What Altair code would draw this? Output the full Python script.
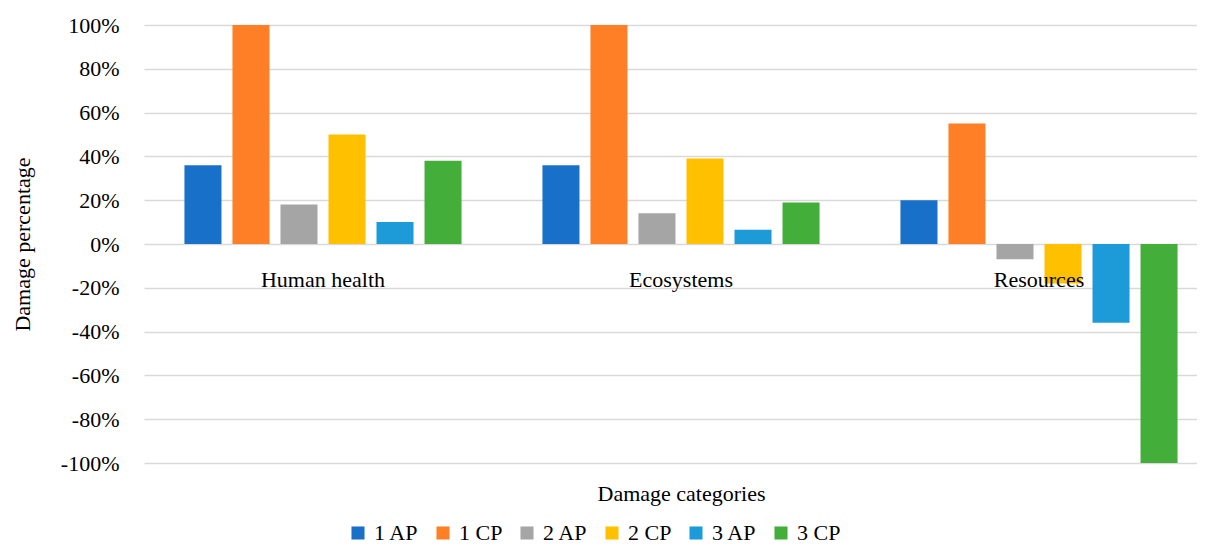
import altair as alt
import pandas as pd

categories = ["Human health", "Ecosystems", "Resources"]
series = ["1 AP", "1 CP", "2 AP", "2 CP", "3 AP", "3 CP"]
ap1 = [0.36, 0.36, 0.20]
cp1 = [1.00, 1.00, 0.55]
ap2 = [0.18, 0.14, -0.07]
cp2 = [0.50, 0.39, -0.18]
ap3 = [0.10, 0.065, -0.36]
cp3 = [0.38, 0.19, -1.00]
colors = ["#1870C8", "#FF7F27", "#A5A5A5", "#FFC000", "#1C9BD8", "#43AE3A"]
y_ticks = [-1.0, -0.8, -0.6, -0.4, -0.2, 0.0, 0.2, 0.4, 0.6, 0.8, 1.0]

all_vals = [ap1, cp1, ap2, cp2, ap3, cp3]
rows = []
for s, vals in zip(series, all_vals):
    for c, v in zip(categories, vals):
        rows.append({"category": c, "series": s, "value": v})
df = pd.DataFrame(rows)
cat_df = pd.DataFrame({"category": categories, "zero": [0.0] * len(categories)})

FONT = "Liberation Serif"

x_scale = alt.Scale(domain=categories, range=[0, 1074], paddingInner=0.226, paddingOuter=0.113)
y_scale = alt.Scale(domain=[-1, 1], nice=False)

bars = alt.Chart(df).mark_bar().encode(
    x=alt.X("category:N", scale=x_scale, sort=categories,
            axis=alt.Axis(labels=False, ticks=False, domain=False, grid=False,
                          title="Damage categories", titlePadding=20,
                          titleFont=FONT, titleFontSize=22, titleFontWeight="normal",
                          titleColor="#000")),
    xOffset=alt.XOffset("series:N", sort=series,
                        scale=alt.Scale(paddingInner=0.229, paddingOuter=0)),
    y=alt.Y("value:Q", scale=y_scale,
            axis=alt.Axis(values=y_ticks, format=".0%", ticks=False, domain=False,
                          labelExpr="replace(datum.label, '\u2212', '-')",
                          labelPadding=25, labelFont=FONT, labelFontSize=22,
                          labelColor="#000", gridColor="#D9D9D9", gridWidth=1.5,
                          title="Damage percentage", titleFont=FONT, titleFontSize=22,
                          titleFontWeight="normal", titleColor="#000",
                          titleAngle=270, titleX=-122, titleY=219,
                          titleAlign="center", titleBaseline="middle")),
    color=alt.Color("series:N", sort=series,
                    scale=alt.Scale(domain=series, range=colors),
                    legend=alt.Legend(title=None, orient="none", direction="horizontal",
                                      legendX=203, legendY=497, symbolType="square",
                                      symbolSize=170, symbolStrokeWidth=0,
                                      labelFont=FONT, labelFontSize=22, labelColor="#000",
                                      labelOffset=5, columnPadding=13, padding=0)),
)

labels = alt.Chart(cat_df).mark_text(
    font=FONT, fontSize=22, color="#000", baseline="middle", align="center", dy=36
).encode(
    x=alt.X("category:N", scale=x_scale, sort=categories),
    y=alt.Y("zero:Q", scale=y_scale),
    text="category:N",
)

chart = alt.layer(bars, labels).properties(
    width=1053, height=438,
    autosize=alt.AutoSizeParams(type="none"),
    padding={"left": 136, "top": 17, "right": 0, "bottom": 81},
).configure_view(stroke=None)

chart.save("out.html", embed_options={"renderer": "svg", "actions": False})
